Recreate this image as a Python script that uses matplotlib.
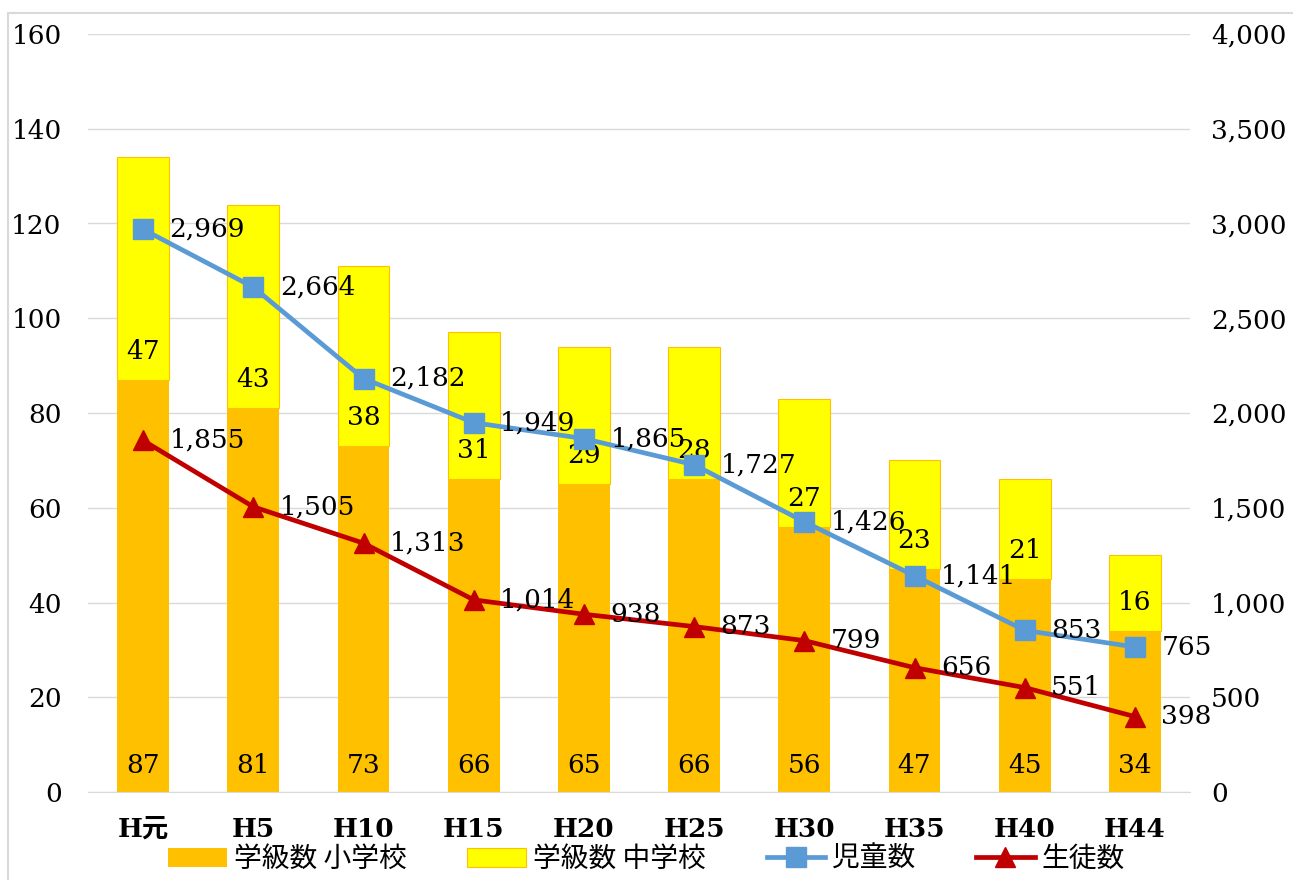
import numpy as np
import matplotlib.pyplot as plt
from matplotlib.patches import Rectangle

# Data
years = ["H元", "H5", "H10", "H15", "H20", "H25", "H30", "H35", "H40", "H44"]
classes_elem = [87, 81, 73, 66, 65, 66, 56, 47, 45, 34]
classes_jr = [47, 43, 38, 31, 29, 28, 27, 23, 21, 16]
pupils = [2969, 2664, 2182, 1949, 1865, 1727, 1426, 1141, 853, 765]
students = [1855, 1505, 1313, 1014, 938, 873, 799, 656, 551, 398]

fam = ["DejaVu Serif", "Noto Sans CJK JP"]
plt.rcParams["font.family"] = fam

c_elem = "#FFC000"
c_jr = "#FFFF00"
c_blue = "#5B9BD5"
c_red = "#C00000"
fs = 19

fig = plt.figure(figsize=(12.93, 8.80), dpi=100)
ax = fig.add_axes([88 / 1293, 1 - 792 / 880, (1190 - 88) / 1293, (792 - 34) / 880])
ax2 = ax.twinx()

x = np.arange(len(years))
w = 0.47
ax.bar(x, classes_elem, w, color=c_elem, label="学級数 小学校", zorder=2)
ax.bar(x, classes_jr, w, bottom=classes_elem, color=c_jr, edgecolor=c_elem,
       linewidth=0.8, label="学級数 中学校", zorder=2)

for i in range(len(x)):
    ax.text(x[i], 5.5, str(classes_elem[i]), ha="center", va="center", fontsize=fs, zorder=3)
    ax.text(x[i], classes_elem[i] + 6, str(classes_jr[i]), ha="center", va="center",
            fontsize=fs, zorder=3)

ax2.plot(x, pupils, color=c_blue, lw=3.4, marker="s", ms=14, label="児童数", zorder=4)
ax2.plot(x, students, color=c_red, lw=3.4, marker="^", ms=15, label="生徒数", zorder=4)
for i in range(len(x)):
    ax2.annotate(f"{pupils[i]:,}", (x[i], pupils[i]), xytext=(19, 0),
                 textcoords="offset points", ha="left", va="center", fontsize=fs, zorder=5)
    ax2.annotate(f"{students[i]:,}", (x[i], students[i]), xytext=(19, 0),
                 textcoords="offset points", ha="left", va="center", fontsize=fs, zorder=5)

ax.set_xlim(-0.5, len(x) - 0.5)
ax.set_ylim(0, 160)
ax.set_yticks(range(0, 161, 20))
ax2.set_ylim(0, 4000)
ax2.set_yticks(range(0, 4001, 500))
ax2.set_yticklabels([f"{v:,}" for v in range(0, 4001, 500)])

ax.set_xticks(x)
ax.set_xticklabels(years, fontsize=fs, fontweight="bold")
ax.tick_params(axis="y", labelsize=fs, length=0, pad=19)
ax2.tick_params(axis="y", labelsize=fs, length=0, pad=15)
ax.tick_params(axis="x", length=0, pad=18)
ax.grid(axis="y", color="#D9D9D9", lw=1, zorder=0)
ax.set_axisbelow(True)
for a in (ax, ax2):
    for s in a.spines.values():
        s.set_visible(False)
ax.spines["bottom"].set_visible(True)
ax.spines["bottom"].set_color("#D9D9D9")
ax.set_zorder(ax2.get_zorder() - 1)
ax.patch.set_visible(False)
ax2.set_zorder(1)

h1, l1 = ax.get_legend_handles_labels()
h2, l2 = ax2.get_legend_handles_labels()
fig.legend(h1 + h2, l1 + l2, loc="center", bbox_to_anchor=(0.5, 1 - 859 / 880),
           ncol=4, frameon=False, columnspacing=2.2, handlelength=2.1,
           handletextpad=0.25, borderpad=0.1,
           prop={"family": ["Noto Sans CJK JP"], "size": 20})

fig.patches.append(Rectangle((8 / 1293, -0.1), 1.1, 1.1 - 13 / 880,
                             transform=fig.transFigure, fill=False,
                             edgecolor="#D9D9D9", lw=1.5))

fig.savefig("out.png", dpi=100)
